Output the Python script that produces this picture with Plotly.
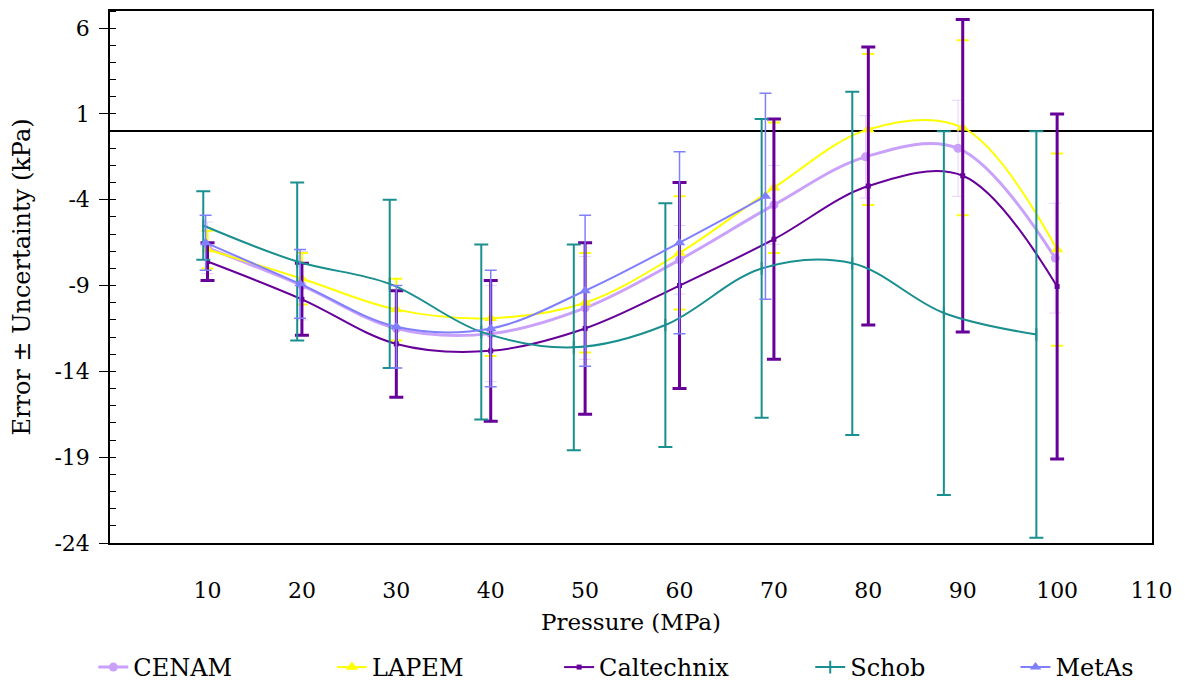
import plotly.graph_objects as go

# ---- data ----
cenam_x = [10, 20, 30, 40, 50, 60, 70, 79.7, 89.5, 99.8]
cenam_y = [-6.8, -9.0, -11.5, -11.8, -10.3, -7.5, -4.3, -1.5, -1.0, -7.4]
cenam_e = [1.5, 2.0, 2.3, 2.8, 3.0, 2.0, 2.3, 2.4, 2.8, 3.2]

lapem_x = [10, 20, 30, 40, 50, 60, 70, 80, 90, 100]
lapem_y = [-6.9, -8.6, -10.4, -10.9, -10.0, -7.1, -3.3, 0.1, 0.2, -6.9]
lapem_e = [1.1, 1.5, 1.8, 2.2, 2.9, 3.3, 3.8, 4.4, 5.1, 5.6]

calt_x = [10, 20, 30, 40, 50, 60, 70, 80, 90, 100]
calt_y = [-7.6, -9.8, -12.4, -12.8, -11.5, -9.0, -6.3, -3.2, -2.6, -9.05]
calt_e = [1.1, 2.1, 3.1, 4.1, 5.0, 6.0, 7.0, 8.1, 9.1, 10.05]

schob_x = [9.55, 19.5, 29.3, 39.0, 48.8, 58.5, 68.7, 78.3, 88.0, 97.8]
schob_y = [-5.5, -7.6, -8.9, -11.7, -12.6, -11.3, -8.0, -7.7, -10.6, -11.85]
schob_e = [2.0, 4.6, 4.9, 5.1, 6.0, 7.1, 8.7, 10.0, 10.6, 11.85]

metas_x = [9.8, 19.8, 30, 40, 50, 60, 69.1]
metas_y = [-6.5, -8.9, -11.4, -11.5, -9.3, -6.5, -3.8]
metas_e = [1.6, 2.0, 2.4, 3.4, 4.4, 5.3, 6.0]

x_ticks = [10, 20, 30, 40, 50, 60, 70, 80, 90, 100, 110]
y_ticks = [-24, -19, -14, -9, -4, 1, 6]

FONT = "DejaVu Serif"

legend_x = [-0.016, 0.213, 0.431, 0.672, 0.869]

fig = go.Figure()

def add(name, x, y, e, color, lw, marker, ecolor, ethick, ewidth, leg):
    fig.add_trace(go.Scatter(
        x=x, y=y, name=name, mode="lines+markers", legend=leg,
        line=dict(color=color, width=lw, shape="spline", smoothing=1.0),
        marker=marker,
        error_y=dict(type="data", array=e, visible=True, color=ecolor,
                     thickness=ethick, width=ewidth),
    ))

add("CENAM", cenam_x, cenam_y, cenam_e, "#C9A0FA", 3,
    dict(symbol="circle", size=9, color="#C9A0FA"), "#E7D2FC", 1, 6, "legend")
add("LAPEM", lapem_x, lapem_y, lapem_e, "#FFFF00", 2,
    dict(symbol="triangle-up", size=11, color="#FFFF00"), "#FFFF00", 2, 6, "legend2")
add("Caltechnix", calt_x, calt_y, calt_e, "#660099", 2,
    dict(symbol="square", size=5, color="#660099"), "#660099", 3, 7, "legend3")
add("Schob", schob_x, schob_y, schob_e, "#1A8F8F", 2,
    dict(symbol="line-ns", size=9, line=dict(color="#1A8F8F", width=2)), "#1A8F8F", 2, 7, "legend4")
add("MetAs", metas_x, metas_y, metas_e, "#8080FF", 2,
    dict(symbol="triangle-up", size=10, color="#8080FF"), "#8080FF", 1.5, 6, "legend5")

legend_common = dict(orientation="h", y=-0.234, yanchor="middle", xanchor="left",
                     font=dict(family=FONT, size=24, color="black"),
                     bgcolor="rgba(0,0,0,0)", borderwidth=0)

layout_legends = {}
for i, lx in enumerate(legend_x):
    key = "legend" if i == 0 else f"legend{i+1}"
    layout_legends[key] = dict(legend_common, x=lx)

fig.update_layout(
    width=1177, height=688,
    margin=dict(l=102, r=33, t=1, b=153),
    paper_bgcolor="white", plot_bgcolor="white",
    font=dict(family=FONT, size=22, color="black"),
    showlegend=True,
    xaxis=dict(range=[-0.33, 110.05], tickmode="array", tickvals=x_ticks,
               ticktext=[str(v) for v in x_ticks], ticks="", showgrid=False,
               zeroline=False, showline=True, linecolor="black", linewidth=1.5,
               mirror=True, ticklabelstandoff=27, tickfont=dict(family=FONT, size=22),
               title=dict(text="Pressure (MPa)", standoff=12, font=dict(family=FONT, size=23))),
    yaxis=dict(range=[-24, 7], tickmode="array", tickvals=y_ticks,
               ticktext=[str(v) for v in y_ticks], ticks="outside", ticklen=9,
               tickcolor="black", showgrid=False, tickfont=dict(family=FONT, size=22),
               minor=dict(dtick=1, tick0=0, ticks="inside", ticklen=6, tickcolor="black"),
               zeroline=True, zerolinecolor="black", zerolinewidth=1.5,
               showline=True, linecolor="black", linewidth=1.5, mirror=True,
               ticklabelstandoff=5,
               title=dict(text="Error ± Uncertainty (kPa)", standoff=18, font=dict(family=FONT, size=24))),
    **layout_legends,
)

fig.write_html("out.html")
